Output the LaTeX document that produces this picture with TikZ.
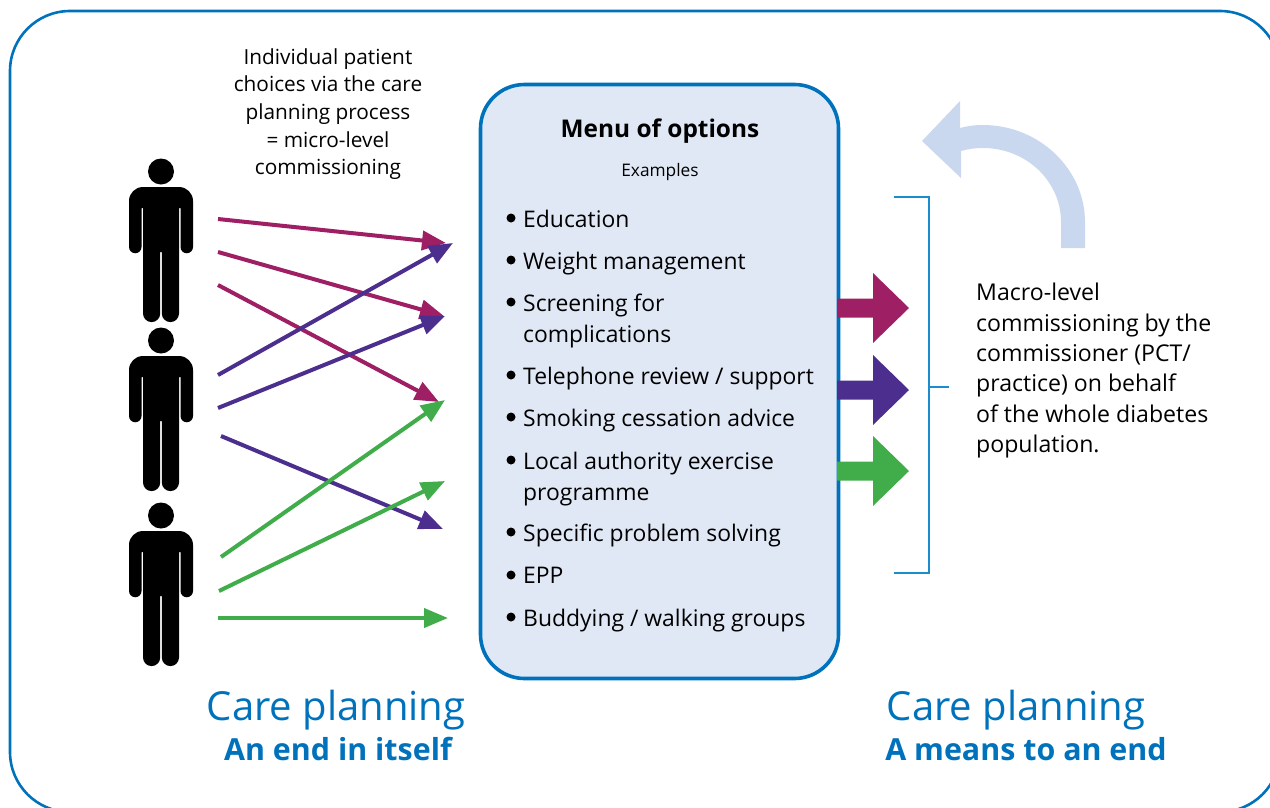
\documentclass[tikz,border=0pt]{standalone}
\usepackage{fontspec}
\setmainfont{Open Sans}
\usepackage{tikz}
\usetikzlibrary{arrows.meta}
\definecolor{nhsblue}{HTML}{0072BC}
\definecolor{bracketblue}{HTML}{1B8DCE}
\definecolor{menufill}{HTML}{E0E8F5}
\definecolor{loopblue}{HTML}{C9D8EF}
\definecolor{plum}{HTML}{9E1F63}
\definecolor{indigo}{HTML}{4B2E8D}
\definecolor{leaf}{HTML}{40AD4A}
\tikzset{
    person/.pic={
        \begin{scope}[yscale=-1]
        \fill[black] (0,150.5) circle (13);
        \fill[black] (-18,114) -- (-19.5,114) -- (-19.5,75) arc (0:-180:6.25) -- (-32,121) arc (180:90:14)
            -- (18,135) arc (90:0:14) -- (32,75) arc (0:-180:6.25) -- (19.5,114) -- (18,114)
            -- (18,8.5) arc (0:-180:8.6) -- (0.8,70) -- (-0.8,70) -- (-0.8,8.5) arc (0:-180:8.6) -- cycle;
        \end{scope}
    },
    bigarrow/.pic={
        \fill (-72,-9.5) -- (-36,-9.5) -- (-36,-35) -- (0,0) -- (-36,35) -- (-36,9.5) -- (-72,9.5) -- cycle;
    }
}
\begin{document}
\begin{tikzpicture}[x=1pt,y=-1pt,
    font=\fontsize{23.1}{30.4}\selectfont
]
    \tikzstyle{flow}=[line width=4,-{Triangle[length=24,width=19]}]
    \tikzstyle{frame line}=[draw=nhsblue,line width=2.6]
    \tikzstyle{bracket line}=[draw=bracketblue,line width=1.6]
    \tikzstyle{big title}=[text=nhsblue,font=\fontsize{40}{46}\selectfont]
    \tikzstyle{sub title}=[text=nhsblue,font=\fontsize{30.4}{36}\selectfont\bfseries]
    \tikzstyle{menu item}=[anchor=north west,align=left,inner sep=0,font=\fontsize{22.9}{30.4}\selectfont]

    \useasboundingbox (0,0) rectangle (1270,807);
    \clip (0,0) rectangle (1270,807);

    % outer frame
    \draw[frame line,rounded corners=60] (10,11) rectangle (1280,812);

    % menu box
    \node(menu)[draw=nhsblue,fill=menufill,line width=3.6,rounded corners=44,minimum width=358,minimum height=594,inner sep=0] at (659.5,381.5) {};
    \node(menutitle)[font=\fontsize{24.4}{28}\selectfont\bfseries] at (660,131) {Menu of options};
    \node(examples)[font=\fontsize{17.3}{22}\selectfont] at (660,172) {Examples};
    \foreach \name/\y/\txt in {
        education/210/{Education},
        weight/252/{Weight management},
        screening/294/{Screening for\\complications},
        phone/367/{Telephone review / support},
        smoking/409/{Smoking cessation advice},
        council/452/{Local authority exercise\\programme},
        problem/524/{Specific problem solving},
        epp/567/{EPP},
        buddy/609/{Buddying / walking groups}}
    {
        \node(\name)[menu item] at (523,\y) {\txt};
        \fill (511,\y+8) circle (4.5);
    }

    % people
    \pic at (161,322) {person};
    \pic at (161,491) {person};
    \pic at (161,666) {person};

    \node(choices)[align=center,font=\fontsize{20.8}{27.7}\selectfont] at (328,114) {Individual patient\\choices via the care\\planning process\\= micro-level\\commissioning};

    % arrow ends
    \coordinate (a1) at (218,219);
    \coordinate (a2) at (218,252);
    \coordinate (a3) at (218,285);
    \coordinate (b1) at (218,375);
    \coordinate (b2) at (218,408);
    \coordinate (b3) at (221,436);
    \coordinate (c1) at (221,557);
    \coordinate (c2) at (219,591);
    \coordinate (c3) at (218,618);
    \coordinate (t1) at (446,243);
    \coordinate (t2) at (444,316);
    \coordinate (t3) at (439,402);
    \coordinate (u1) at (453,243);
    \coordinate (u2) at (445,316);
    \coordinate (u3) at (443,529);
    \coordinate (v1) at (445,400);
    \coordinate (v2) at (445,481);
    \coordinate (v3) at (448,618);

    \draw[flow,plum] (a1) -- (t1);
    \draw[flow,plum] (a2) -- (t2);
    \draw[flow,plum] (a3) -- (t3);
    \draw[flow,indigo] (b1) -- (u1);
    \draw[flow,indigo] (b2) -- (u2);
    \draw[flow,indigo] (b3) -- (u3);
    \draw[flow,leaf] (c1) -- (v1);
    \draw[flow,leaf] (c2) -- (v2);
    \draw[flow,leaf] (c3) -- (v3);

    % outputs of the menu
    \pic[plum] at (909,308) {bigarrow};
    \pic[indigo] at (909,390) {bigarrow};
    \pic[leaf] at (909,471) {bigarrow};

    % bracket
    \coordinate (b top) at (894,197);
    \coordinate (b topc) at (929,197);
    \coordinate (b botc) at (929,573);
    \coordinate (b bot) at (894,573);
    \coordinate (b mid) at (929,387);
    \coordinate (b out) at (949,387);
    \draw[bracket line] (b top) -- (b topc) -- (b botc) -- (b bot);
    \draw[bracket line] (b mid) -- (b out);

    % curved arrow
    \fill[loopblue] (1085,248) -- (1085,222) .. controls (1085,169) and (1039,125) .. (983,125)
        .. controls (975,125) and (967,126) .. (960,128) -- (960,101) -- (922,141) -- (961,178) -- (961,151)
        .. controls (968,149) and (975,148) .. (983,148) .. controls (1026,148) and (1061,181) .. (1061,222)
        -- (1061,248) -- cycle;

    \node(macro)[anchor=north west,align=left,inner sep=0] at (976,283) {Macro-level\\commissioning by the\\commissioner (PCT/\\practice) on behalf\\of the whole diabetes\\population.};

    % captions
    \node(planleft)[big title] at (336,710) {Care planning};
    \node(endleft)[sub title] at (338,749) {An end in itself};
    \node(planright)[big title] at (1016,710) {Care planning};
    \node(endright)[sub title] at (1026,749) {A means to an end};
\end{tikzpicture}
\end{document}
